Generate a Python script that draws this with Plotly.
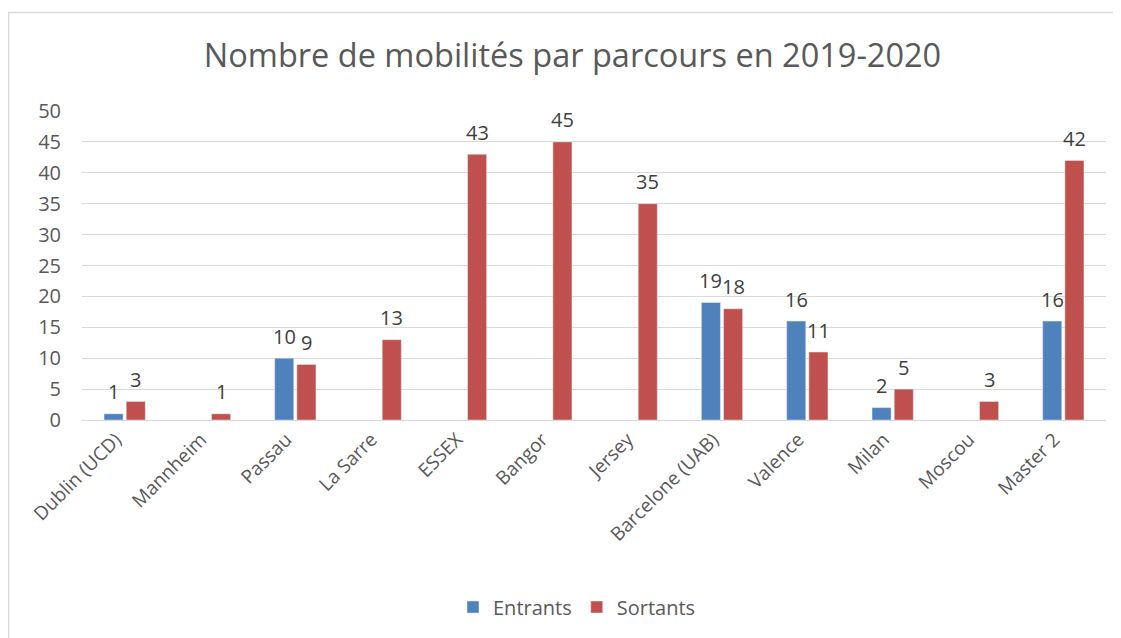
import plotly.graph_objects as go

categories = ["Dublin (UCD)", "Mannheim", "Passau", "La Sarre", "ESSEX", "Bangor",
              "Jersey", "Barcelone (UAB)", "Valence", "Milan", "Moscou", "Master 2"]
entrants = [1, None, 10, None, None, None, None, 19, 16, 2, None, 16]
sortants = [3, 1, 9, 13, 43, 45, 35, 18, 11, 5, 3, 42]
y_ticks = [0, 5, 10, 15, 20, 25, 30, 35, 40, 45, 50]

BLUE = "#4F81BD"
RED = "#C0504D"
TXT = "#595959"
LBL = "#404040"
FONT = "Open Sans, Noto Sans, sans-serif"

# the page is offset by the browser's 8px body margin
OFF = 8
W, H = 1121 - OFF, 638 - OFF
L, T = 82 - OFF, 111 - OFF
R = 1121 - 1106
B = 638 - 420
pw, ph = W - L - R, H - T - B

def px_to_paper_x(x):
    return (x - OFF - L) / pw

def px_to_paper_y(y):
    return 1 - (y - OFF - T) / ph

BARGAP, GROUPGAP = 0.48, 0.14
cat_w = pw / len(categories)
half_slot = cat_w * (1 - BARGAP) / 4

fig = go.Figure()
fig.add_trace(go.Bar(name="Entrants", x=categories, y=entrants, marker_color=BLUE))
fig.add_trace(go.Bar(name="Sortants", x=categories, y=sortants, marker_color=RED))

annotations = []
for series, shift in ((entrants, -half_slot), (sortants, half_slot)):
    for cat, v in zip(categories, series):
        if v is None:
            continue
        annotations.append(dict(
            x=cat, y=v, xref="x", yref="y", text=str(v), showarrow=False,
            xshift=shift, yshift=22, yanchor="middle", xanchor="center",
            font=dict(size=20, color=LBL, family=FONT),
        ))

fig.update_layout(
    width=W, height=H,
    margin=dict(l=L, r=R, t=T, b=B, autoexpand=False),
    paper_bgcolor="white", plot_bgcolor="white",
    font=dict(family=FONT, color=TXT),
    title=dict(text="Nombre de mobilités par parcours en 2019-2020",
               font=dict(size=32.5, color=TXT, family=FONT),
               x=(572.5 - OFF) / W, xanchor="center", y=1 - (56 - OFF) / H, yanchor="middle"),
    barmode="group", bargap=BARGAP, bargroupgap=GROUPGAP,
    legend=dict(orientation="h", x=px_to_paper_x(453), xanchor="left",
                y=px_to_paper_y(607), yanchor="middle",
                font=dict(size=20, color=TXT, family=FONT),
                itemwidth=30, traceorder="normal"),
    xaxis=dict(tickangle=-45, tickfont=dict(size=19, color=TXT, family=FONT),
               showline=True, linecolor="#D9D9D9", linewidth=1, ticks="",
               showgrid=False, ticklabelshift=-9),
    yaxis=dict(range=[0, 50], tickvals=y_ticks,
               tickfont=dict(size=20, color=TXT, family=FONT),
               showgrid=True, gridcolor="#D9D9D9", gridwidth=1,
               zeroline=False, showline=False, ticks="", ticklabelstandoff=20),
    annotations=annotations,
    shapes=[dict(type="rect", xref="paper", yref="paper",
                 x0=px_to_paper_x(8.5), x1=px_to_paper_x(1140),
                 y0=px_to_paper_y(660), y1=px_to_paper_y(12.5),
                 line=dict(color="#D9D9D9", width=1.5), fillcolor="rgba(0,0,0,0)",
                 layer="below")],
)

fig.write_html("out.html")
